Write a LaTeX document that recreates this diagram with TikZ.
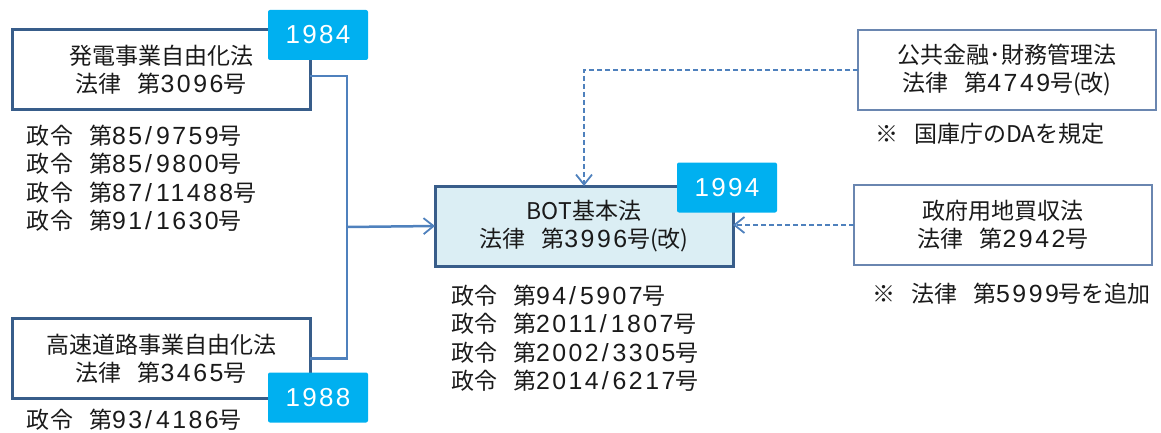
\documentclass[tikz,border=0pt]{standalone}
\usepackage{fontspec}
\setmainfont{Noto Sans CJK JP}
\newfontfamily\tagfont[LetterSpace=9]{Liberation Sans}
\newfontfamily\numfont[LetterSpace=10,Scale=1.08]{Liberation Sans}
\usetikzlibrary{arrows.meta,positioning,calc}
\definecolor{cLine}{HTML}{4F81BD}
\definecolor{cEdge}{HTML}{385D8A}
\definecolor{cThin}{HTML}{6A86B0}
\definecolor{cTag} {HTML}{00B0F0}
\definecolor{cBot} {HTML}{DBEEF4}
\definecolor{cText}{HTML}{1A1A1A}
\newcommand\nm[1]{{\numfont #1}}
\newcommand\gap{\hspace{0.7em}}
\newcommand\slsep{\kern3pt/\kern4pt}
\tikzset{
  law/.style ={draw=cEdge,line width=3pt,fill=white,align=center,text=cText,
               minimum width=298pt,minimum height=80pt,inner sep=0pt},
  basic/.style={law,fill=cBot},
  ref/.style ={law,draw=cThin,line width=1.5pt},
  yr/.style  ={fill=cTag,text=white,rounded corners=2pt,minimum width=100pt,
               minimum height=50pt,inner sep=0pt,font=\tagfont\fontsize{26}{26}\selectfont},
  ord/.style ={align=left,inner sep=0pt,anchor=north west,text=cText},
  link/.style={draw=cLine,line width=2.5pt},
  tip/.style ={-{Straight Barb[length=10pt,width=16pt,line width=1.8pt]}},
  feed/.style={tip,draw=cLine,line width=2pt,dash pattern=on 5pt off 3pt},
}

\begin{document}
\begin{tikzpicture}[x=1pt,y=-1pt,every node/.style={outer sep=0pt},
  font=\fontsize{23}{28.3}\selectfont]
\useasboundingbox (0,0) rectangle (1161,433);

% left column: the two liberalisation acts and their decrees
\node[law] (gen) at (161,70) {発電事業自由化法\\法律\gap 第\nm{3096}号};
\node[ord] (gord) at (27,125)
  {政令\gap 第\nm{85\slsep9759}号\\政令\gap 第\nm{85\slsep9800}号\\
   政令\gap 第\nm{87\slsep11488}号\\政令\gap 第\nm{91\slsep1630}号};
\node[law] (road) at (161,358.5) {高速道路事業自由化法\\法律\gap 第\nm{3465}号};
\node[ord] (rord) at (27,409) {政令\gap 第\nm{93\slsep4186}号};

% centre: the BOT act
\node[basic] (bot) at (584,226) {BOT基本法\\法律\gap 第\nm{3996}号(改)};
\node[ord] (bord) at (451,285)
  {政令\gap 第\nm{94\slsep5907}号\\政令\gap 第\nm{2011\slsep1807}号\\
   政令\gap 第\nm{2002\slsep3305}号\\政令\gap 第\nm{2014\slsep6217}号};

% right column: related acts
\node[ref] (fin) at (1007,70) {公共金融･財務管理法\\法律\gap 第\nm{4749}号(改)};
\node[ord] (fnote) at (875,123) {※\gap 国庫庁のDAを規定};
\node[ref] (land) at (1003,225) {政府用地買収法\\法律\gap 第\nm{2942}号};
\node[ord] (lnote) at (872,283) {※\gap 法律\gap 第\nm{5999}号を追加};

% year tags sit on the box corners
\node[yr] (gyr) at (318,35) {1984};
\node[yr] (ryr) at (318,397.5) {1988};
\node[yr] (byr) at (727,187.5) {1994};

% connectors
\coordinate (rail) at (347,227);
\draw[link] ([yshift=-6pt]gen.east) -| (rail) |- (road.east);
\draw[link,tip] (rail) -- (bot.west);
\draw[feed] (fin.west) -| (bot.north);
\draw[feed] (land.west) -- (land.west -| bot.east);
\end{tikzpicture}
\end{document}
